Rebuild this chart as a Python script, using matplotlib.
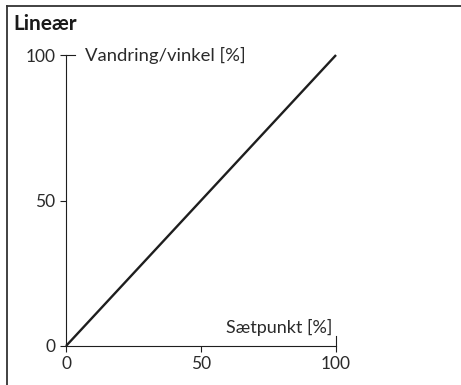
import matplotlib.pyplot as plt
import matplotlib.transforms as mtransforms
from matplotlib.lines import Line2D

plt.rcParams['font.family'] = ['Lato', 'DejaVu Sans']

title = "Lineær"
xlabel = "Sætpunkt [%]"
ylabel = "Vandring/vinkel [%]"
setpoint = [0, 100]
travel = [0, 100]
ticks = [0, 50, 100]

fig = plt.figure(figsize=(4.61, 3.85), dpi=100)
ax = fig.add_axes([0.1432, 0.1013, 0.5857, 0.7558])

txt = '#2a2a2a'
ax.plot(setpoint, travel, color='#1e1e1e', lw=1.7, solid_capstyle='butt', clip_on=False)

ax.set_xlim(0, 100)
ax.set_ylim(0, 100)
ax.set_xticks(ticks)
ax.set_yticks(ticks)
ax.tick_params(direction='out', length=4.5, width=0.8, colors='#1e1e1e',
               labelsize=12.5, labelcolor=txt, pad=3)
for s in ['top', 'right']:
    ax.spines[s].set_visible(False)
for s in ['left', 'bottom']:
    ax.spines[s].set_linewidth(0.8)
    ax.spines[s].set_color('#1e1e1e')

# inner half of the end ticks
tx = mtransforms.blended_transform_factory(ax.transData, ax.transAxes)
ty = mtransforms.blended_transform_factory(ax.transAxes, ax.transData)
ax.plot([100, 100], [0, 0.035], transform=tx, color='#1e1e1e', lw=0.8, clip_on=False)
ax.plot([0, 0.035], [100, 100], transform=ty, color='#1e1e1e', lw=0.8, clip_on=False)

ax.text(0.985 * 100, 3.5, xlabel, ha='right', va='bottom', fontsize=13, color=txt)
ax.text(7, 100, ylabel, ha='left', va='center', fontsize=13.3, color=txt)

fig.text(13 / 461, 1 - 30 / 385, title, ha='left', va='baseline', fontsize=15,
         fontweight='bold', color='#1a1a1a')

# frame around the figure (top and left visible)
fig.add_artist(Line2D([7 / 461, 7 / 461], [0, 1 - 5.5 / 385], transform=fig.transFigure,
                      color='#333333', lw=1.3))
fig.add_artist(Line2D([7 / 461, 1], [1 - 5.5 / 385, 1 - 5.5 / 385], transform=fig.transFigure,
                      color='#333333', lw=1.3))

fig.savefig('out.png', dpi=100)
